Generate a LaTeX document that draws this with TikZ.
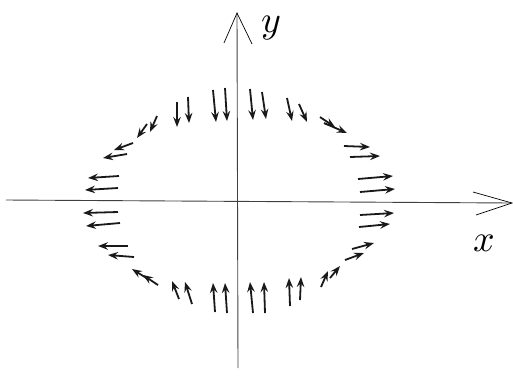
\documentclass[tikz,border=0pt]{standalone}
\usetikzlibrary{arrows.meta}
\begin{document}
\begin{tikzpicture}[x=1bp,y=-1bp,
  fa/.style={-{Stealth[length=10bp,width=7.5bp,inset=3.5bp]}, line width=1.8bp, black!90},
  axisline/.style={line width=0.9bp, black!75},
  barb/.style={line width=0.7bp, black},
  lbl/.style={inner sep=0pt, scale=3.8}]
\useasboundingbox (0,0) rectangle (513,375);
% axes
\coordinate (xs) at (6,200);
\coordinate (xe) at (512,203);
\coordinate (ys) at (238,368);
\coordinate (ye) at (237,13);
\draw[axisline] (xs) -- (xe);
\draw[axisline] (ys) -- (ye);
\draw[barb] (473,192) -- (xe) -- (476,215);
\draw[barb] (224,43) -- (ye) -- (252,44);
\node[lbl] (ylab) at (271,28) {$y$};
\node[lbl] (xlab) at (484,243) {$x$};
% upper-left
\draw[fa] (213,90) -- (216,122);
\draw[fa] (225,88) -- (227,121);
\draw[fa] (177,102) -- (177,127);
\draw[fa] (188,97) -- (189,123);
\draw[fa] (147,124) -- (137,138);
\draw[fa] (157,116) -- (150,132);
\draw[fa] (133,143) -- (114,150);
\draw[fa] (127,154) -- (103,158);
\draw[fa] (119,176) -- (88,178);
\draw[fa] (118,188) -- (85,190);
% upper-right
\draw[fa] (250,89) -- (253,120);
\draw[fa] (262,92) -- (266,119);
\draw[fa] (287,98) -- (292,121);
\draw[fa] (299,104) -- (307,122);
\draw[fa] (320,117) -- (335,127);
\draw[fa] (324,123) -- (347,133);
\draw[fa] (344,146) -- (370,147);
\draw[fa] (350,157) -- (380,156);
\draw[fa] (358,179) -- (393,176);
\draw[fa] (360,192) -- (395,189);
% lower-left
\draw[fa] (118,212) -- (83,213);
\draw[fa] (120,223) -- (86,226);
\draw[fa] (128,246) -- (98,246);
\draw[fa] (134,257) -- (108,255);
\draw[fa] (158,285) -- (143,275);
\draw[fa] (148,279) -- (132,269);
\draw[fa] (179,299) -- (172,281);
\draw[fa] (192,304) -- (185,282);
\draw[fa] (215,312) -- (213,283);
\draw[fa] (227,313) -- (225,283);
% lower-right
\draw[fa] (253,313) -- (250,282);
\draw[fa] (265,313) -- (264,282);
\draw[fa] (290,306) -- (289,278);
\draw[fa] (300,300) -- (301,277);
\draw[fa] (321,287) -- (328,271);
\draw[fa] (330,278) -- (340,266);
\draw[fa] (345,260) -- (364,253);
\draw[fa] (352,249) -- (374,243);
\draw[fa] (359,227) -- (390,224);
\draw[fa] (360,215) -- (394,213);
\end{tikzpicture}
\end{document}
